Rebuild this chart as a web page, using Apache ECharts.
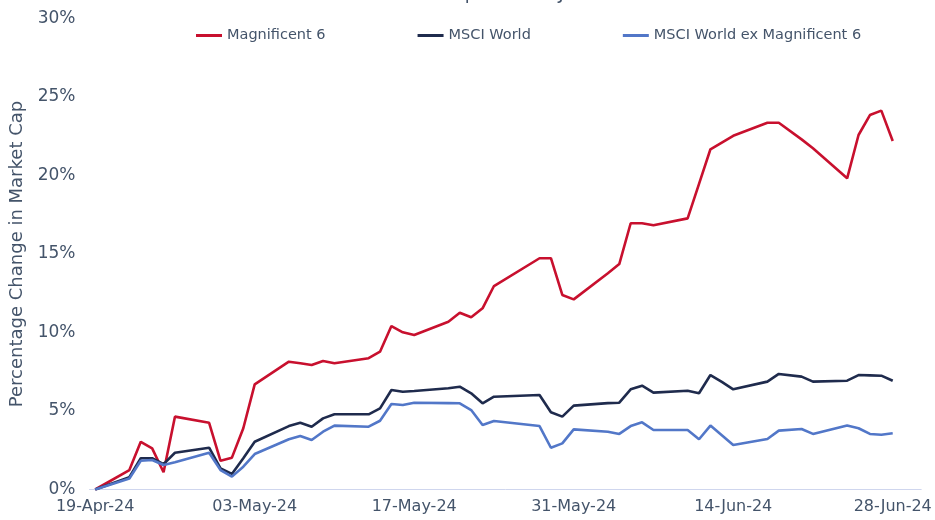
<!DOCTYPE html>
<html lang="en">
<head>
    <meta charset="UTF-8">
    <title>Magnificent 6 vs MSCI World</title>
    <script src="https://cdn.jsdelivr.net/npm/echarts@6/dist/echarts.min.js"></script>
    <style>
        html, body {
            margin: 0;
            padding: 0;
            background-color: #ffffff;
        }

        #chart {
            width: 935px;
            height: 520px;
        }
    </style>
</head>
<body>
    <div id="chart"></div>

    <script>
        // trading days (weekends and holidays are simply skipped)
        const tradeDates = [
            '19-Apr-24', '22-Apr-24', '23-Apr-24', '24-Apr-24', '25-Apr-24', '26-Apr-24',
            '29-Apr-24', '30-Apr-24', '01-May-24', '02-May-24', '03-May-24',
            '06-May-24', '07-May-24', '08-May-24', '09-May-24', '10-May-24',
            '13-May-24', '14-May-24', '15-May-24', '16-May-24', '17-May-24',
            '20-May-24', '21-May-24', '22-May-24', '23-May-24', '24-May-24',
            '28-May-24', '29-May-24', '30-May-24', '31-May-24',
            '03-Jun-24', '04-Jun-24', '05-Jun-24', '06-Jun-24', '07-Jun-24',
            '10-Jun-24', '11-Jun-24', '12-Jun-24', '13-Jun-24', '14-Jun-24',
            '17-Jun-24', '18-Jun-24', '20-Jun-24', '21-Jun-24',
            '24-Jun-24', '25-Jun-24', '26-Jun-24', '27-Jun-24', '28-Jun-24'
        ];

        const mag6 = [
            0, 1.24, 3.04, 2.62, 1.10, 4.64,
            4.25, 1.83, 2.03, 3.90, 6.70,
            8.14, 8.04, 7.93, 8.18, 8.04,
            8.36, 8.78, 10.41, 10.01, 9.84,
            10.69, 11.26, 10.97, 11.54, 12.96,
            14.73, 14.73, 12.39, 12.11,
            13.77, 14.36, 16.96, 16.96, 16.83,
            17.27, 19.47, 21.67, 22.10, 22.53,
            23.36, 23.36, 22.30, 21.73,
            19.82, 22.58, 23.85, 24.13, 22.20
        ];

        const msciWorld = [
            0, 0.78, 1.99, 1.99, 1.62, 2.34,
            2.66, 1.35, 0.99, 1.99, 3.04,
            4.04, 4.25, 4.00, 4.53, 4.79,
            4.79, 5.17, 6.34, 6.23, 6.27,
            6.45, 6.55, 6.13, 5.49, 5.91,
            6.02, 4.92, 4.64, 5.34,
            5.50, 5.53, 6.38, 6.61, 6.17,
            6.29, 6.13, 7.29, 6.85, 6.38,
            6.87, 7.36, 7.19, 6.87,
            6.93, 7.29, 7.27, 7.25, 6.93
        ];

        const msciExMag6 = [
            0, 0.70, 1.83, 1.88, 1.56, 1.73,
            2.34, 1.24, 0.82, 1.45, 2.26,
            3.20, 3.41, 3.15, 3.68, 4.07,
            4.00, 4.38, 5.45, 5.38, 5.53,
            5.50, 5.49, 5.06, 4.11, 4.36,
            4.04, 2.66, 2.94, 3.83,
            3.68, 3.54, 4.04, 4.28, 3.79,
            3.79, 3.20, 4.07, 3.45, 2.83,
            3.22, 3.75, 3.85, 3.54,
            4.07, 3.90, 3.54, 3.49, 3.58
        ];

        // calendar day axis, 19-Apr-24 to 30-Jun-24
        const months = ['Jan', 'Feb', 'Mar', 'Apr', 'May', 'Jun', 'Jul', 'Aug', 'Sep', 'Oct', 'Nov', 'Dec'];
        const calendarDays = [];
        for (let t = Date.UTC(2024, 3, 19); t <= Date.UTC(2024, 5, 30); t += 86400000) {
            const d = new Date(t);
            const dd = String(d.getUTCDate()).padStart(2, '0');
            calendarDays.push(dd + '-' + months[d.getUTCMonth()] + '-24');
        }

        const textColor = '#44546a';
        const font = 'DejaVu Sans';

        function pairs(values) {
            return tradeDates.map((d, i) => [d, values[i]]);
        }

        const chart = echarts.init(document.getElementById('chart'));
        const option = {
            animation: false,
            title: {
                text: 'Period: 19th April - 30th June',
                left: 'center',
                top: -20,
                textStyle: { color: textColor, fontFamily: font, fontSize: 18, fontWeight: 'normal' }
            },
            legend: {
                left: 191,
                top: 23,
                itemGap: 92,
                itemWidth: 26,
                itemHeight: 3,
                icon: 'rect',
                textStyle: { color: textColor, fontFamily: font, fontSize: 14.5 },
                data: ['Magnificent 6', 'MSCI World', 'MSCI World ex Magnificent 6']
            },
            grid: {
                left: 89.5,
                right: 13.8,
                top: 18.5,
                bottom: 30.5
            },
            xAxis: {
                type: 'category',
                data: calendarDays,
                boundaryGap: true,
                axisLine: { lineStyle: { color: '#cfd6ee', width: 1 } },
                axisTick: { interval: 13, length: 5, lineStyle: { color: '#cfd6ee' } },
                axisLabel: {
                    interval: 13,
                    color: textColor,
                    fontFamily: font,
                    fontSize: 16,
                    margin: 9
                }
            },
            yAxis: {
                type: 'value',
                min: 0,
                max: 30,
                interval: 5,
                name: 'Percentage Change in Market Cap',
                nameLocation: 'middle',
                nameGap: 63,
                nameTextStyle: { color: textColor, fontFamily: font, fontSize: 18 },
                axisLine: { show: false },
                axisTick: { show: false },
                splitLine: { show: false },
                axisLabel: {
                    formatter: '{value}%',
                    color: textColor,
                    fontFamily: font,
                    fontSize: 17,
                    margin: 14
                }
            },
            series: [
                {
                    name: 'Magnificent 6',
                    type: 'line',
                    data: pairs(mag6),
                    showSymbol: false,
                    symbol: 'none',
                    lineStyle: { color: '#c8102e', width: 2.6 },
                    itemStyle: { color: '#c8102e' }
                },
                {
                    name: 'MSCI World',
                    type: 'line',
                    data: pairs(msciWorld),
                    showSymbol: false,
                    symbol: 'none',
                    lineStyle: { color: '#1f2b4d', width: 2.6 },
                    itemStyle: { color: '#1f2b4d' }
                },
                {
                    name: 'MSCI World ex Magnificent 6',
                    type: 'line',
                    data: pairs(msciExMag6),
                    showSymbol: false,
                    symbol: 'none',
                    lineStyle: { color: '#5277c8', width: 2.6 },
                    itemStyle: { color: '#5277c8' }
                }
            ]
        };
        chart.setOption(option);
    </script>
</body>
</html>
